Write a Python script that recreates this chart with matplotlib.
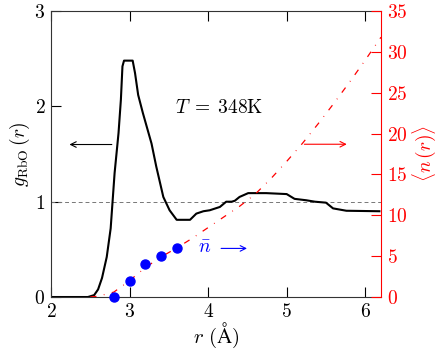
import matplotlib
matplotlib.use("Agg")
import matplotlib.pyplot as plt

plt.rcParams['font.family'] = ['cmr10', 'DejaVu Serif']
plt.rcParams['mathtext.fontset'] = 'cm'
plt.rcParams['axes.formatter.use_mathtext'] = True
plt.rcParams['axes.unicode_minus'] = False

# g_RbO(r)
r_g = [2.0, 2.47, 2.55, 2.6, 2.65, 2.71, 2.76, 2.81, 2.86, 2.89, 2.91, 2.93, 3.04, 3.07, 3.11,
       3.17, 3.28, 3.34, 3.43, 3.51, 3.6, 3.77, 3.85, 3.94, 4.02, 4.15, 4.23, 4.3, 4.34, 4.4,
       4.51, 4.74, 5.0, 5.1, 5.25, 5.36, 5.5, 5.59, 5.76, 6.18]
g = [0.0, 0.0, 0.02, 0.08, 0.2, 0.42, 0.72, 1.3, 1.72, 2.07, 2.42, 2.48, 2.48, 2.35, 2.12,
     1.93, 1.61, 1.37, 1.05, 0.91, 0.81, 0.81, 0.875, 0.90, 0.91, 0.945, 1.0, 1.0, 1.01, 1.05,
     1.09, 1.09, 1.08, 1.03, 1.015, 1.0, 0.99, 0.93, 0.905, 0.90]

# cumulative <n(r)>
r_n = [2.5, 2.6, 2.8, 3.0, 3.2, 3.4, 3.6, 3.8, 4.0, 4.2, 4.4, 4.6, 4.8, 5.0, 5.2, 5.4, 5.6,
       5.8, 6.0, 6.2]
n = [0.0, 0.1, 0.6, 2.0, 3.6, 4.9, 6.0, 7.2, 8.5, 9.8, 11.1, 12.6, 14.5, 16.6, 18.8, 21.2,
     23.7, 26.3, 29.0, 31.8]

# n-bar points
r_bar = [2.8, 3.0, 3.2, 3.4, 3.6]
n_bar = [0, 2, 4, 5, 6]

FS = 14

fig = plt.figure(figsize=(4.43, 3.57), dpi=100)
ax = fig.add_axes([0.115, 0.168, 0.745, 0.801])
ax2 = ax.twinx()

ax.axhline(1.0, color='#777777', lw=0.7, ls=(0, (4, 3)))
ax.plot(r_g, g, color='black', lw=1.5)
ax.set_xlim(2, 6.2)
ax.set_ylim(0, 3)
ax.set_xticks([2, 3, 4, 5, 6])
ax.set_yticks([0, 1, 2, 3])
ax.tick_params(direction='in', length=7, width=0.8, labelsize=FS, top=True, right=False,
               pad=4)
ax.set_xlabel(r'$r\ (\mathrm{\AA})$', fontsize=FS + 1, labelpad=0)
ax.set_ylabel(r'$g_{\mathrm{RbO}}\,(r)$', fontsize=FS, labelpad=2)
for s in ['left', 'top', 'bottom']:
    ax.spines[s].set_color('#333333')
    ax.spines[s].set_linewidth(0.8)
ax.spines['right'].set_visible(False)

ax2.plot(r_n, n, color='red', lw=0.9, ls=(0, (5, 6, 0.6, 6)))
ax2.plot(r_bar, n_bar, 'o', color='blue', ms=6.5, zorder=5, clip_on=False)
ax2.set_ylim(0, 35)
ax2.set_yticks(range(0, 36, 5))
ax2.tick_params(direction='in', length=7, width=0.8, labelsize=FS, colors='red', pad=4)
ax2.set_ylabel(r'$\langle n\,(r)\rangle$', fontsize=FS, color='red', labelpad=2)
ax2.spines['right'].set_color('red')
for s in ['left', 'top', 'bottom']:
    ax2.spines[s].set_visible(False)

ax.text(3.58, 1.98, r'$T\;=\;348\mathrm{K}$', fontsize=FS, va='center', ha='left')
ax.annotate('', xy=(2.2, 1.6), xytext=(2.81, 1.6),
            arrowprops=dict(arrowstyle='->', color='black', lw=0.8))
ax2.annotate('', xy=(5.8, 18.7), xytext=(5.19, 18.7),
             arrowprops=dict(arrowstyle='->', color='red', lw=0.8))
ax.text(3.96, 0.51, r'$\bar{n}$', fontsize=FS, color='blue', va='center', ha='center')
ax.annotate('', xy=(4.53, 0.51), xytext=(4.13, 0.51),
            arrowprops=dict(arrowstyle='->', color='blue', lw=0.8))

fig.savefig('out.png', dpi=100)
